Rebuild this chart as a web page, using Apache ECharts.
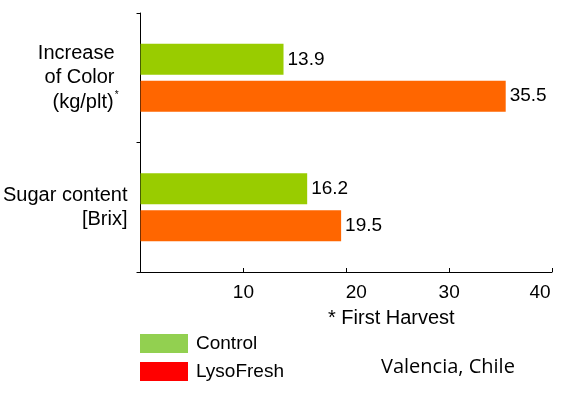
<!DOCTYPE html>
<html>
<head>
<meta charset="utf-8">
<script src="https://cdn.jsdelivr.net/npm/echarts@6/dist/echarts.min.js"></script>
<style>
html,body{margin:0;padding:0;background:#fff;}
#chart{width:561px;height:397px;}
</style>
</head>
<body>
<div id="chart"></div>
<script>
const categories = ['Increase of Color (kg/plt)*', 'Sugar content [Brix]'];
const controlValues = [13.9, 16.2];
const lysoValues = [35.5, 19.5];
const seriesNames = ['Control', 'LysoFresh'];
const xTicks = [0, 10, 20, 30, 40];

const font = '"Liberation Sans", Arial, sans-serif';
const chart = echarts.init(document.getElementById('chart'));
chart.setOption({
  animation: false,
  backgroundColor: '#fff',
  grid: { left: 140, right: 9, top: 13, bottom: 125, containLabel: false },
  xAxis: {
    type: 'value', min: xTicks[0], max: xTicks[xTicks.length - 1], interval: 10,
    axisLine: { show: true, lineStyle: { color: '#000', width: 1 } },
    axisTick: { show: true, inside: true, length: 4, lineStyle: { color: '#000' } },
    splitLine: { show: false },
    axisLabel: {
      margin: 11, color: '#000', fontSize: 19, fontFamily: font,
      formatter: function (v) {
        if (v === xTicks[0]) return '';
        if (v === xTicks[2]) return '{p|' + v + '}';
        if (v === xTicks[4]) return '{q|' + v + '}';
        return String(v);
      },
      rich: {
        p: { fontSize: 19, fontFamily: font, color: '#000', padding: [0, 0, 0, 20] },
        q: { fontSize: 19, fontFamily: font, color: '#000', padding: [0, 24, 0, 0] }
      }
    }
  },
  yAxis: {
    type: 'category', inverse: true, data: categories,
    axisLine: { show: true, lineStyle: { color: '#000', width: 1 } },
    axisTick: { show: true, length: 4, lineStyle: { color: '#000' } },
    axisLabel: {
      margin: 13, color: '#000', fontSize: 20, fontFamily: font, align: 'right',
      lineHeight: 24.5,
      formatter: function (v) {
        if (v === categories[0]) {
          return '{a|Increase}\n{a|of Color}\n{b|(kg/plt)}{s|*}';
        }
        return '{c|Sugar content}\n{c|[Brix]}';
      },
      rich: {
        a: { fontSize: 20, fontFamily: font, color: '#000', padding: [0, 13, 0, 0], lineHeight: 24.5 },
        b: { fontSize: 20, fontFamily: font, color: '#000', lineHeight: 24.5 },
        c: { fontSize: 20, fontFamily: font, color: '#000', lineHeight: 24.5 },
        s: { fontSize: 10, fontFamily: font, color: '#000', verticalAlign: 'top', padding: [0, 9, 8, 1], lineHeight: 24.5 }
      }
    }
  },
  legend: {
    orient: 'vertical', left: 140, top: 334, padding: 0, itemWidth: 48, itemHeight: 19, itemGap: 9,
    icon: 'rect',
    textStyle: { fontSize: 19, lineHeight: 19, fontFamily: font, color: '#000', padding: [0, 0, 0, 3] },
    data: [
      { name: seriesNames[0], itemStyle: { color: '#92D050' } },
      { name: seriesNames[1], itemStyle: { color: '#FF0000' } }
    ]
  },
  graphic: [
    { type: 'text', left: 328, top: 306, style: { text: '* First Harvest', fontSize: 20, lineHeight: 24, fontFamily: font, fill: '#000' } },
    { type: 'text', left: 381, top: 355, style: { text: 'Valencia, Chile', fontSize: 20, lineHeight: 24, fontFamily: '"Open Sans", sans-serif', fill: '#000' } }
  ],
  series: [
    {
      name: seriesNames[0], type: 'bar', data: controlValues, barWidth: 31, barGap: '19%',
      itemStyle: { color: '#99CC00' },
      label: { show: true, position: 'right', distance: 4, color: '#000', fontSize: 19, fontFamily: font }
    },
    {
      name: seriesNames[1], type: 'bar', data: lysoValues, barWidth: 31, barGap: '19%',
      itemStyle: { color: '#FF6600' },
      label: { show: true, position: 'right', distance: 4, color: '#000', fontSize: 19, fontFamily: font }
    }
  ]
});
</script>
</body>
</html>
